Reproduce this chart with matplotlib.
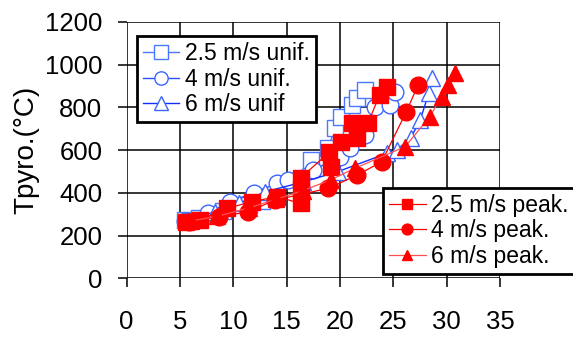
import matplotlib
matplotlib.use("Agg")
import matplotlib.pyplot as plt
from matplotlib.ticker import MultipleLocator

plt.rcParams['font.family'] = ['Liberation Sans', 'DejaVu Sans']

# ---- data ----
x_sq_unif = [5.5, 6.8, 9.0, 11.5, 12.7, 14.0, 17.3, 18.9, 19.5, 20.1, 21.1, 21.6, 22.3]
y_sq_unif = [273, 280, 315, 345, 360, 375, 553, 608, 702, 756, 810, 842, 880]

x_ci_unif = [5.5, 7.6, 9.7, 11.9, 14.1, 15.1, 17.5, 20.0, 20.9, 22.3, 23.3, 24.7, 25.1]
y_ci_unif = [270, 304, 358, 400, 444, 460, 507, 569, 608, 670, 803, 810, 873]

x_tr_unif = [5.8, 8.3, 10.5, 13.0, 16.5, 19.8, 24.4, 25.3, 26.6, 27.5, 28.3, 28.6]
y_tr_unif = [270, 312, 350, 405, 450, 499, 585, 600, 655, 740, 865, 935]

x_sq_peak = [5.6, 6.9, 9.4, 11.7, 14.1, 16.3, 16.3, 16.3, 19.0, 19.1, 20.1, 21.6, 21.1, 22.6, 23.7, 24.4]
y_sq_peak = [265, 273, 327, 358, 382, 350, 420, 470, 590, 520, 639, 655, 725, 725, 857, 893]

x_ci_peak = [5.8, 8.7, 11.4, 13.9, 18.9, 21.6, 23.9, 26.2, 27.3]
y_ci_peak = [265, 288, 311, 366, 421, 483, 545, 779, 904]

x_tr_peak = [6.0, 8.5, 11.5, 14.0, 16.5, 19.1, 21.4, 26.1, 28.4, 29.5, 30.1, 30.8]
y_tr_peak = [268, 290, 330, 370, 410, 460, 515, 616, 756, 850, 904, 959]

labels_unif = ['2.5 m/s unif.', '4 m/s unif.', '6 m/s unif']
labels_peak = ['2.5 m/s peak.', '4 m/s peak.', '6 m/s peak.']

fig = plt.figure(figsize=(5.73, 3.40), dpi=100)
ax = fig.add_axes([0.221, 0.1815, 0.652, 0.7545])

ms = 12
h1, = ax.plot(x_sq_unif, y_sq_unif, '-s', color='#4a78ff', mfc='white', mec='#4a78ff',
              ms=ms, lw=1.0, mew=1.0, label=labels_unif[0])
h2, = ax.plot(x_ci_unif, y_ci_unif, '-o', color='#2b50ff', mfc='white', mec='#3a66ff',
              ms=ms, lw=1.0, mew=1.0, label=labels_unif[1])
h3, = ax.plot(x_tr_unif, y_tr_unif, '-^', color='#1030ff', mfc='white', mec='#3a66ff',
              ms=ms, lw=1.0, mew=1.0, label=labels_unif[2])
h4, = ax.plot(x_sq_peak, y_sq_peak, '-s', color='#ff0000', mfc='#ff0000', mec='#ff0000',
              ms=ms, lw=0.9, label=labels_peak[0])
h5, = ax.plot(x_ci_peak, y_ci_peak, '-o', color='#ff0000', mfc='#ff0000', mec='#ff0000',
              ms=ms, lw=0.9, label=labels_peak[1])
h6, = ax.plot(x_tr_peak, y_tr_peak, '-^', color='#ff5050', mfc='#ff0000', mec='#ff0000',
              ms=ms, lw=0.9, label=labels_peak[2])

ax.set_xlim(0, 35)
ax.set_ylim(0, 1200)
ax.xaxis.set_major_locator(MultipleLocator(5))
ax.yaxis.set_major_locator(MultipleLocator(200))
ax.grid(True, color='black', lw=1.1)
ax.set_axisbelow(True)
for s in ax.spines.values():
    s.set_visible(False)
ax.tick_params(axis='both', labelsize=18.5, length=6.5, width=1.1, direction='out')
ax.tick_params(axis='x', pad=16)
ax.tick_params(axis='y', pad=11)
ax.set_ylabel('Tpyro.(°C)', fontsize=20, labelpad=4)

common = dict(fontsize=16.5, frameon=True, fancybox=False, handlelength=1.6,
              handletextpad=0.25, borderpad=0.25, labelspacing=0.12, borderaxespad=0)
leg1 = ax.legend(handles=[h1, h2, h3], loc='upper left', bbox_to_anchor=(0.028, 0.944),
                 markerscale=0.8, **common)
leg1.get_frame().set_edgecolor('black')
leg1.get_frame().set_linewidth(2)
leg1.get_frame().set_alpha(1)
ax.add_artist(leg1)
leg2 = ax.legend(handles=[h4, h5, h6], loc='upper left', bbox_to_anchor=(0.687, 0.352),
                 markerscale=0.65, **common)
leg2.get_frame().set_edgecolor('black')
leg2.get_frame().set_linewidth(2)
leg2.get_frame().set_alpha(1)
leg2.set_clip_on(False)

fig.savefig('out.png', dpi=100)
